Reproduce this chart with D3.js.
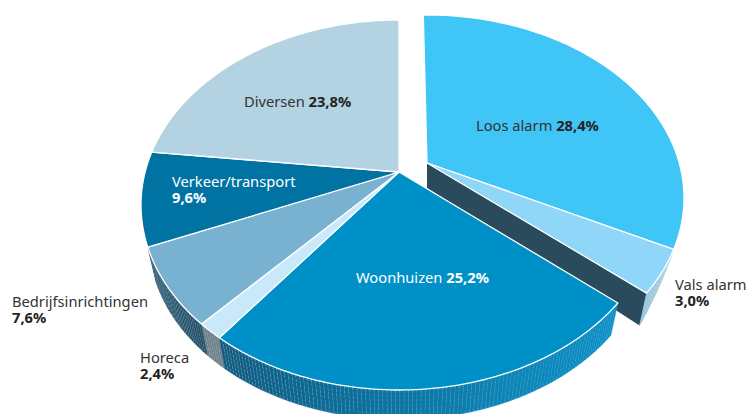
<!DOCTYPE html>
<html>
<head>
<meta charset="utf-8">
<script src="https://cdn.jsdelivr.net/npm/d3@7"></script>
<style>
  html, body { margin: 0; padding: 0; background: #fff; }
  svg { display: block; }
  text { font-family: "Noto Sans", sans-serif; font-size: 14.7px; }
</style>
</head>
<body>
<svg id="chart"></svg>
<script>
const width = 748;
const height = 414;

// clockwise from 12 o'clock
const categories = ["Loos alarm", "Vals alarm", "Woonhuizen", "Horeca", "Bedrijfsinrichtingen", "Verkeer/transport", "Diversen"];
const percents = ["28,4%", "3,0%", "25,2%", "2,4%", "7,6%", "9,6%", "23,8%"];
// the wedges in the picture are not drawn true to their printed percents,
// so these are the sweeps (degrees)
const drawnSweeps = [116.6, 13.7, 87.1, 5.1, 24.5, 29.5, 83.5];
const explodedCategories = ["Loos alarm", "Vals alarm"];

const topColors = ["#40C6F6", "#8FD6F8", "#0090C8", "#C9E9FA", "#78B2D0", "#0073A2", "#B3D2E2"];
const nameColors = ["#333", "#333", "#fff", "#333", "#333", "#fff", "#333"];
const valueColors = ["#222", "#222", "#fff", "#222", "#222", "#fff", "#222"];

// label anchors: left x, first baseline, and one or two lines
const labelLayout = [
  { x: 476, y: 131, twoLines: false },
  { x: 675, y: 290, twoLines: true },
  { x: 356, y: 283, twoLines: false },
  { x: 140, y: 363, twoLines: true },
  { x: 12, y: 307, twoLines: true },
  { x: 172, y: 187, twoLines: true },
  { x: 244, y: 107, twoLines: false },
];

const svg = d3.select("#chart").attr("width", width).attr("height", height);

// ellipse of the tilted pie; apex sits above the ellipse centre (perspective)
const mainFrame = { cx: 399, cy: 205, rx: 258, ry: 185, apexUp: 33, vx: 399, vy: 1310 };
const explodedFrame = { cx: 427, cy: 198, rx: 257, ry: 183, apexUp: 35, vx: 427, vy: 1303 };
const wallScale = 0.968;
const apexDepth = 25;
const explodedLead = (1 * Math.PI) / 180; // Loos alarm's left edge leans back a little

function rim(frame, angle) {
  const u = Math.sin(angle);
  const v = -Math.cos(angle);
  const k = frame.apexUp / frame.ry;
  const den = 1 - k * v;
  return [
    frame.cx + (frame.rx * Math.sqrt(1 - k * k) * u) / den,
    frame.cy + (frame.ry * v - frame.apexUp) / den,
  ];
}

function apex(frame) {
  return [frame.cx, frame.cy - frame.apexUp];
}

function lowered(frame, p, factor = 1) {
  const x = frame.vx + wallScale * (p[0] - frame.vx);
  const y = frame.vy + wallScale * (p[1] - frame.vy);
  return [p[0] + factor * (x - p[0]), p[1] + factor * (y - p[1])];
}

function sampleAngles(a0, a1, stepDeg) {
  const n = Math.max(2, Math.ceil(((a1 - a0) * 180) / Math.PI / stepDeg));
  return d3.range(n + 1).map((i) => a0 + ((a1 - a0) * i) / n);
}

const pie = d3.pie().sort(null);

const slices = pie(drawnSweeps).map((d, i) => {
  const exploded = explodedCategories.includes(categories[i]);
  return {
    name: categories[i],
    a0: i === 0 ? d.startAngle - explodedLead : d.startAngle,
    a1: d.endAngle,
    color: topColors[i],
    frame: exploded ? explodedFrame : mainFrame,
  };
});

const line = d3.line();
const g = svg.append("g");

// side walls
const wallStyles = {
  "Vals alarm": { colors: ["#A4CFE4", "#8DBDD6"], hatch: [0.3, 0.3] },
  Woonhuizen: { colors: ["#0A8EC6", "#0C84B6", "#0C6F9B", "#0F5A7E"], hatch: [0.1, 0.12, 0.25, 0.35] },
  Horeca: { colors: ["#6E808C", "#6E808C"], hatch: [0.2, 0.2] },
  Bedrijfsinrichtingen: { colors: ["#1F4F68", "#22536C"], hatch: [0.25, 0.25] },
};

function drawWall(slice) {
  const style = wallStyles[slice.name];
  const frame = slice.frame;
  const taper = frame === explodedFrame;
  const angles = sampleAngles(slice.a0, slice.a1, 0.8);
  const t = d3.scaleLinear().domain([slice.a0, slice.a1]).range([0, 1]);
  const stops = style.colors.map((_, i) => i / (style.colors.length - 1));
  const color = d3.scaleLinear().domain(stops).range(style.colors);
  const hatch = d3.scaleLinear().domain(stops).range(style.hatch);
  const wall = g.append("g");

  d3.pairs(angles).forEach(([a, b]) => {
    const pa = rim(frame, a);
    const pb = rim(frame, b);
    const la = lowered(frame, pa, taper ? t(a) : 1);
    const lb = lowered(frame, pb, taper ? t(b) : 1);
    const c = color(t((a + b) / 2));
    wall
      .append("path")
      .attr("d", line([pa, pb, lb, la]) + "Z")
      .attr("fill", c)
      .attr("stroke", c)
      .attr("stroke-width", 0.4);
    wall
      .append("path")
      .attr("d", line([pa, la]))
      .attr("fill", "none")
      .attr("stroke", "#fff")
      .attr("stroke-width", 0.7)
      .attr("stroke-dasharray", "3 1.5")
      .attr("stroke-opacity", hatch(t(a)));
  });
}

const vals = slices.find((s) => s.name === "Vals alarm");

// the dark cut face under the exploded part
const cutTop = rim(explodedFrame, vals.a1);
const cutApex = apex(explodedFrame);
g.append("path")
  .attr(
    "d",
    line([
      cutApex,
      cutTop,
      lowered(explodedFrame, cutTop),
      [cutApex[0], cutApex[1] + apexDepth],
    ]) + "Z"
  )
  .attr("fill", "#2A4B5B");

["Vals alarm", "Bedrijfsinrichtingen", "Horeca", "Woonhuizen"].forEach((name) => {
  drawWall(slices.find((s) => s.name === name));
});

// tops
g.selectAll("path.top")
  .data(slices)
  .enter()
  .append("path")
  .attr("class", "top")
  .attr("d", (d) => {
    const pts = sampleAngles(d.a0, d.a1, 1).map((a) => rim(d.frame, a));
    return line([apex(d.frame), ...pts]) + "Z";
  })
  .attr("fill", (d) => d.color)
  .attr("stroke", "#fff")
  .attr("stroke-width", 1.3)
  .attr("stroke-linejoin", "round");

// labels
categories.forEach((name, i) => {
  const pos = labelLayout[i];
  const t = svg.append("text").attr("x", pos.x).attr("y", pos.y);
  t.append("tspan")
    .attr("fill", nameColors[i])
    .text(name + (pos.twoLines ? "" : " "));
  const val = t
    .append("tspan")
    .attr("font-weight", 700)
    .attr("fill", valueColors[i])
    .text(percents[i]);
  if (pos.twoLines) val.attr("x", pos.x).attr("dy", 16);
});
</script>
</body>
</html>
